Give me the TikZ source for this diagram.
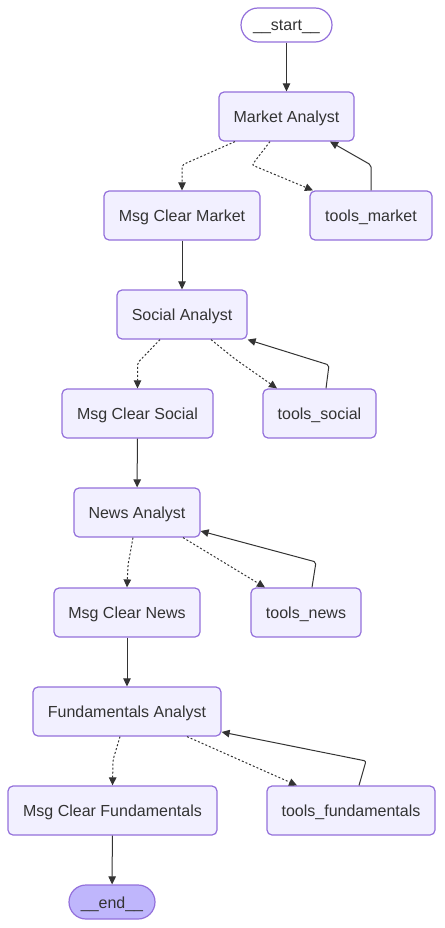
\documentclass[tikz,border=0pt]{standalone}
\usepackage{fontspec}
\setmainfont{Liberation Sans}
\usetikzlibrary{arrows.meta}
\definecolor{nodefill}{HTML}{F2F0FF}
\definecolor{endfill}{HTML}{BFB6FC}
\definecolor{nodestroke}{HTML}{9370DB}
\definecolor{edgec}{HTML}{333333}
\definecolor{textc}{HTML}{333333}
\begin{document}
\begin{tikzpicture}[x=1pt,y=-1pt,
  box/.style={draw=nodestroke, fill=nodefill, line width=1.2pt, rounded corners=5pt,
    minimum height=49pt, inner xsep=0pt, inner ysep=0pt, text=textc,
    text height=15pt, text depth=3pt,
    font=\fontsize{16}{19}\selectfont},
  pill/.style={box, rounded corners=17pt, minimum height=34pt},
  flow/.style={draw=edgec, line width=1pt, rounded corners=2pt,
    -{Triangle[length=8pt,width=7.5pt]}},
  cond/.style={flow, dash pattern=on 2pt off 2pt}]
\useasboundingbox (0,0) rectangle (444,928);

\node[pill, fill=white, minimum width=91pt] (st) at (286.5,25) {\_\_start\_\_};
\node[box, minimum width=135pt] (ma) at (286.5,116.5) {Market Analyst};
\node[box, minimum width=156pt] (mcm) at (182,215.5) {Msg Clear Market};
\node[box, minimum width=122pt] (tm) at (371,215.5) {tools\_market};
\node[box, minimum width=130pt] (sa) at (182,314.5) {Social Analyst};
\node[box, minimum width=151pt] (mcs) at (137.5,413.5) {Msg Clear Social};
\node[box, minimum width=113pt] (ts) at (319.5,413.5) {tools\_social};
\node[box, minimum width=126pt] (na) at (137,512.5) {News Analyst};
\node[box, minimum width=146pt] (mcn) at (127,612.5) {Msg Clear News};
\node[box, minimum width=110pt] (tn) at (306,612.5) {tools\_news};
\node[box, minimum width=188pt] (fa) at (127,711.5) {Fundamentals Analyst};
\node[box, minimum width=209pt] (mcf) at (112.5,810.5) {Msg Clear Fundamentals};
\node[box, minimum width=168pt] (tf) at (351,810.5) {tools\_fundamentals};
\node[pill, fill=endfill, minimum width=86pt] (en) at (112,902) {\_\_end\_\_};

% market
\draw[flow] (st) -- (ma);
\draw[cond] ([xshift=-51.5pt]ma.south) -- (182,165) -- (mcm.north);
\draw[cond] ([xshift=-16.5pt]ma.south) -- (252,165) -- ([xshift=-58pt]tm.north);
\draw[flow] (tm.north) -- (371,165) -- ([xshift=43.5pt]ma.south);
\draw[flow] (mcm) -- (sa);
% social
\draw[cond] ([xshift=-22pt]sa.south) -- (137.5,363) -- (mcs.north);
\draw[cond] ([xshift=29pt]sa.south) -- (235,359) -- ([xshift=-42.5pt]ts.north);
\draw[flow] ([xshift=6.5pt]ts.north) -- (329,365) -- (sa.south east);
\draw[flow] (mcs) -- (na);
% news
\draw[cond] ([xshift=-4pt]na.south) -- (128,565) -- (mcn.north);
\draw[cond] ([xshift=46pt]na.south) -- ([xshift=-41pt]tn.north);
\draw[flow] ([xshift=6pt]tn.north) -- (316,562) -- ([yshift=-18.5pt]na.east);
\draw[flow] (mcn) -- (fa);
% fundamentals
\draw[cond] ([xshift=-7pt]fa.south) -- (113,760) -- (mcf.north);
\draw[cond] ([xshift=60pt]fa.south) -- ([xshift=-54pt]tf.north);
\draw[flow] ([xshift=8pt]tf.north) -- (366,761) -- ([yshift=-20.5pt]fa.east);
\draw[flow] (mcf) -- (en);
\end{tikzpicture}
\end{document}
